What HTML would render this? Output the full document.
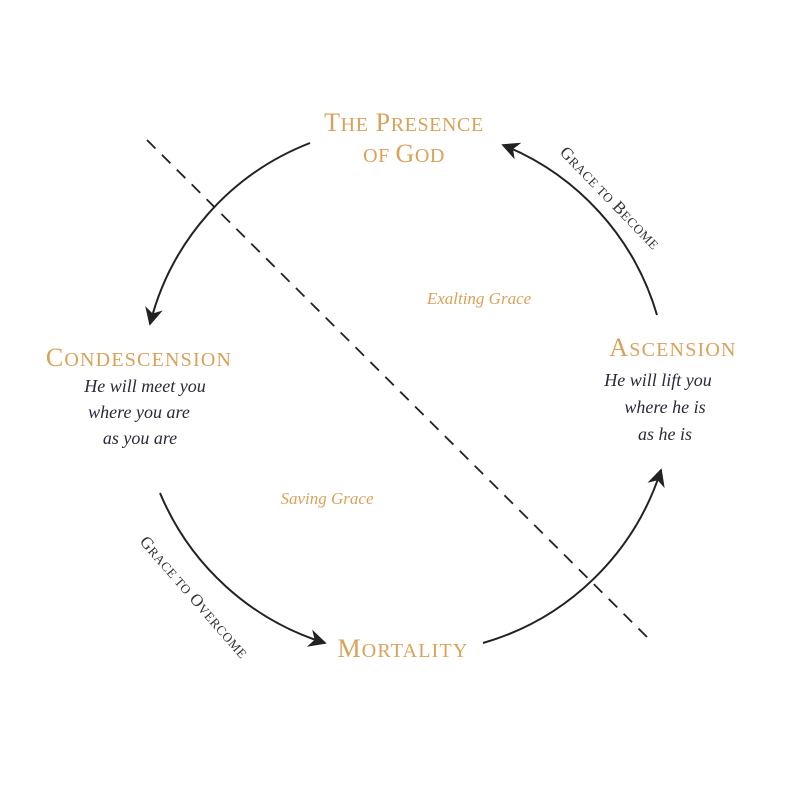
<!DOCTYPE html>
<html><head><style>
body{margin:0;background:#fff;width:800px;height:806px;overflow:hidden}
</style></head><body>
<svg width="800" height="806" viewBox="0 0 800 806" xmlns="http://www.w3.org/2000/svg">
<defs>
<marker id="a" viewBox="0 0 10 10" refX="9" refY="5" markerWidth="20" markerHeight="18" orient="auto" markerUnits="userSpaceOnUse"><path d="M0,0 L10,5 L0,10 L3,5 z" fill="#222"/></marker>
</defs>
<g fill="none" stroke="#222" stroke-width="2">
<path d="M310,143 A263,263 0 0 0 150,324" marker-end="url(#a)"/>
<path d="M657,315 A263,263 0 0 0 503,145" marker-end="url(#a)"/>
<path d="M160,493 A263,263 0 0 0 325,643" marker-end="url(#a)"/>
<path d="M483,643 A263,263 0 0 0 661,470" marker-end="url(#a)"/>
<line x1="147" y1="140" x2="650" y2="640" stroke-dasharray="12,9" stroke-width="1.8"/>
</g>
<g font-family="Liberation Serif, serif" fill="#d9a25a" text-anchor="middle" letter-spacing="0.6">
<text x="404" y="131" font-size="26">T<tspan font-size="20">HE</tspan> P<tspan font-size="20">RESENCE</tspan></text>
<text x="404" y="162" font-size="20">OF <tspan font-size="26">G</tspan>OD</text>
<text x="139" y="366" font-size="26" letter-spacing="1.2">C<tspan font-size="20">ONDESCENSION</tspan></text>
<text x="673" y="356" font-size="26" letter-spacing="1.2">A<tspan font-size="20">SCENSION</tspan></text>
<text x="403" y="657" font-size="26" letter-spacing="1.2">M<tspan font-size="20">ORTALITY</tspan></text>
<text x="479" y="304" font-size="17" font-style="italic" letter-spacing="0">Exalting Grace</text>
<text x="327" y="504" font-size="17" font-style="italic" letter-spacing="0">Saving Grace</text>
</g>
<g font-family="Liberation Serif, serif" fill="#2a2a3a" text-anchor="middle" font-style="italic" font-size="18">
<text x="145" y="392">He will meet you</text>
<text x="139" y="418">where you are</text>
<text x="140" y="444">as you are</text>
<text x="658" y="386">He will lift you</text>
<text x="665" y="413">where he is</text>
<text x="665" y="440">as he is</text>
</g>
<g font-family="Liberation Serif, serif" fill="#333" font-size="17" letter-spacing="0.5">
<text transform="translate(559,153) rotate(46)">G<tspan font-size="13">RACE TO</tspan> B<tspan font-size="13">ECOME</tspan></text>
<text transform="translate(139,542) rotate(49)">G<tspan font-size="13">RACE TO</tspan> O<tspan font-size="13">VERCOME</tspan></text>
</g>
</svg>
</body></html>
